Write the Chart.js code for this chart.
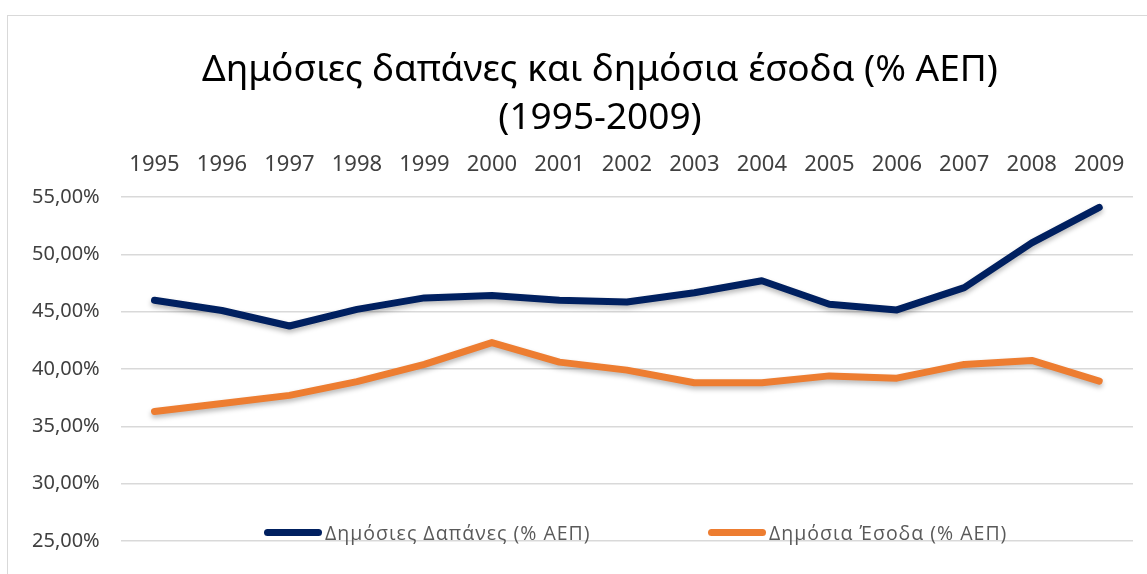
<!DOCTYPE html>
<html>
<head>
<meta charset="utf-8">
<script src="https://cdn.jsdelivr.net/npm/chart.js@4"></script>
<style>
  html, body { margin: 0; padding: 0; background: #fff; }
  #wrap { position: relative; width: 1147px; height: 574px; }
  #frame { position: absolute; left: 7px; top: 15px; right: 0; bottom: 0;
           border-left: 1.5px solid #d9d9d9; border-top: 1.5px solid #d9d9d9; pointer-events: none; }
  #legend { position: absolute; left: 0; top: 518px; width: 1147px; height: 28px;
            font-family: 'Open Sans', sans-serif; font-size: 19.5px; letter-spacing: 1px; color: #595959; }
  .item { position: absolute; top: 0; display: flex; align-items: center; height: 28px; white-space: nowrap; }
  .mark { display: inline-block; width: 58px; height: 7px; border-radius: 4px; margin-right: 3px; }
</style>
</head>
<body>
<div id="wrap">
  <canvas id="chart" width="1147" height="574"></canvas>
  <div id="frame"></div>
  <div id="legend"></div>
</div>
<script>
const years = ['1995','1996','1997','1998','1999','2000','2001','2002','2003','2004','2005','2006','2007','2008','2009'];
const expenditure = [46.0, 45.1, 43.75, 45.2, 46.2, 46.4, 46.0, 45.85, 46.65, 47.7, 45.65, 45.15, 47.1, 51.0, 54.1];
const revenue = [36.3, 37.0, 37.7, 38.9, 40.4, 42.3, 40.6, 39.9, 38.8, 38.8, 39.4, 39.2, 40.4, 40.75, 38.95];
const seriesNames = ['Δημόσιες Δαπάνες (% ΑΕΠ)', 'Δημόσια Έσοδα (% ΑΕΠ)'];
const seriesColors = ['#002060', '#ED7D31'];
const titleLines = ['Δημόσιες δαπάνες και δημόσια έσοδα (% ΑΕΠ)', '(1995-2009)'];

// σκιά κάτω από τις γραμμές, όπως στο Excel
const lineShadow = {
    id: 'lineShadow',
    beforeDatasetsDraw(chart) {
        const ctx = chart.ctx;
        ctx.save();
        ctx.shadowColor = 'rgba(0,0,0,0.28)';
        ctx.shadowBlur = 5;
        ctx.shadowOffsetY = 3;
    },
    afterDatasetsDraw(chart) {
        chart.ctx.restore();
    }
};

// ο τίτλος στο πρωτότυπο είναι λίγο δεξιότερα από το κέντρο
const titleShift = {
    id: 'titleShift',
    afterLayout(chart) {
        if (chart.titleBlock) chart.titleBlock.left += 56;
    }
};

const ctx = document.getElementById('chart').getContext('2d');
const chart = new Chart(ctx, {
    type: 'line',
    data: {
        labels: years,
        datasets: [
            { label: seriesNames[0], data: expenditure, borderColor: seriesColors[0], backgroundColor: seriesColors[0],
              borderWidth: 7, pointRadius: 0, tension: 0, borderCapStyle: 'round', borderJoinStyle: 'round' },
            { label: seriesNames[1], data: revenue, borderColor: seriesColors[1], backgroundColor: seriesColors[1],
              borderWidth: 7, pointRadius: 0, tension: 0, borderCapStyle: 'round', borderJoinStyle: 'round' }
        ]
    },
    options: {
        responsive: false,
        animation: false,
        layout: { padding: { left: 11, right: 14, top: 0, bottom: 27 } },
        plugins: {
            legend: { display: false },
            tooltip: { enabled: false },
            title: {
                display: true,
                text: titleLines,
                color: '#000',
                font: { family: 'Noto Sans', size: 37, weight: 'normal', lineHeight: 1.2973 },
                padding: { top: 46, bottom: -9.4 }
            }
        },
        scales: {
            x: {
                position: 'top',
                offset: true,
                grid: { display: false, drawTicks: false },
                border: { display: false },
                ticks: { color: '#404040', font: { family: 'Noto Sans', size: 22 }, padding: 19, maxRotation: 0 }
            },
            y: {
                min: 25,
                max: 55,
                grid: { color: '#d9d9d9', lineWidth: 1.5, drawTicks: false },
                border: { display: false },
                ticks: {
                    stepSize: 5,
                    color: '#404040',
                    padding: 21,
                    font: { family: 'Noto Sans', size: 20 },
                    callback: v => v.toFixed(2).replace('.', ',') + '%'
                }
            }
        }
    },
    plugins: [lineShadow, titleShift]
});

// υπόμνημα μέσα στην περιοχή του γραφήματος
const legendEl = document.getElementById('legend');
const legendX = [264, 708];
seriesNames.forEach((name, i) => {
    const item = document.createElement('div');
    item.className = 'item';
    item.style.left = legendX[i] + 'px';
    const mark = document.createElement('span');
    mark.className = 'mark';
    mark.style.background = seriesColors[i];
    const txt = document.createElement('span');
    txt.textContent = name;
    item.appendChild(mark);
    item.appendChild(txt);
    legendEl.appendChild(item);
});
</script>
</body>
</html>
